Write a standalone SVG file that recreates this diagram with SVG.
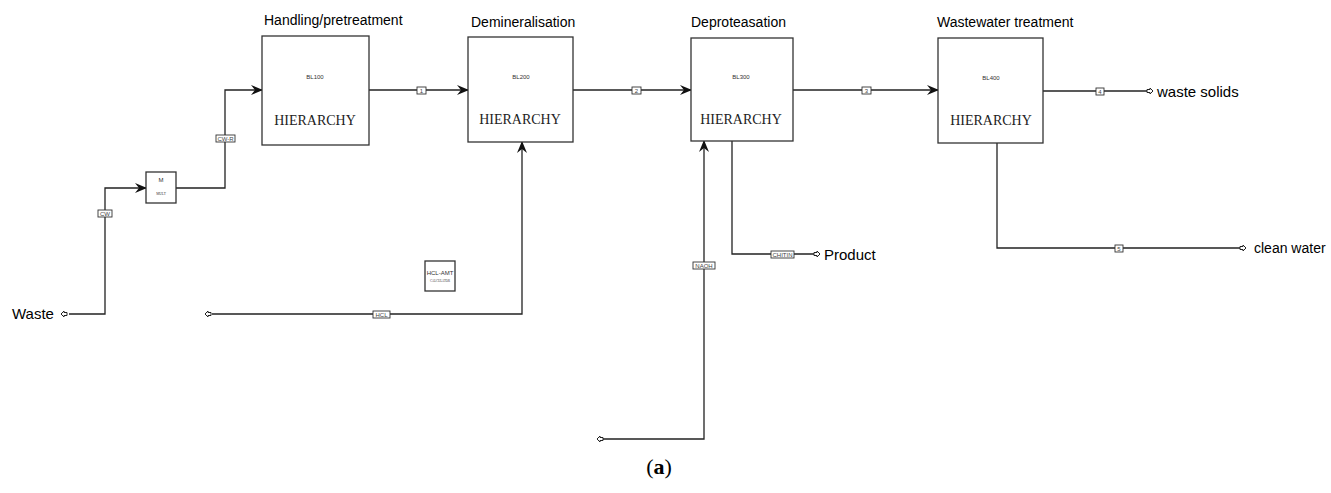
<svg xmlns="http://www.w3.org/2000/svg" width="1331" height="493" viewBox="0 0 1331 493">
<defs>
<style>
.blk{fill:#fff;stroke:#333;stroke-width:1.3}
.ln{fill:none;stroke:#222;stroke-width:1.3}
.ttl{font-family:"Liberation Sans",Arial,sans-serif;font-size:14px;fill:#000}
.lbl{font-family:"Liberation Sans",Arial,sans-serif;font-size:15px;fill:#000}
.bl{font-family:"Liberation Sans",Arial,sans-serif;font-size:6px;fill:#333;text-anchor:middle}
.hier{font-family:"Liberation Serif","Times New Roman",serif;font-size:14px;fill:#222;text-anchor:middle}
.tag{fill:#fff;stroke:#333;stroke-width:0.9}
.tagt{font-family:"Liberation Sans",Arial,sans-serif;font-size:6px;fill:#444;text-anchor:middle}
.port{fill:#fff;stroke:#222;stroke-width:1}
</style>
<marker id="ah" viewBox="0 0 12 10" refX="11" refY="5" markerWidth="12" markerHeight="10" markerUnits="userSpaceOnUse" orient="auto">
<path d="M0,0 L12,5 L0,10 L4,5 z" fill="#111"/>
</marker>
</defs>
<rect width="1331" height="493" fill="#fff"/>

<g id="connectors">
<path class="ln" d="M69,314 H105 V188 H146" marker-end="url(#ah)"/>
<path class="ln" d="M176,188 H225 V90 H262" marker-end="url(#ah)"/>
<path class="ln" d="M369,90 H468" marker-end="url(#ah)"/>
<path class="ln" d="M573,90 H691" marker-end="url(#ah)"/>
<path class="ln" d="M793,90 H938" marker-end="url(#ah)"/>
<path class="ln" d="M1043,91 H1147"/>
<path class="ln" d="M212,314 H522 V142" marker-end="url(#ah)"/>
<path class="ln" d="M603,439 H704 V141" marker-end="url(#ah)"/>
<path class="ln" d="M732,141 V254 H814"/>
<path class="ln" d="M997,143 V248 H1240"/>

<path class="port" d="M61,314 l3,-3 l0,1.5 l3,0 l0,3 l-3,0 l0,1.5 z"/>
<path class="port" d="M205,314 l3,-3 l0,1.5 l3,0 l0,3 l-3,0 l0,1.5 z"/>
<path class="port" d="M597,439 l3,-3 l0,1.5 l3,0 l0,3 l-3,0 l0,1.5 z"/>
<path class="port" d="M820,254 l-3,-3 l0,1.5 l-3,0 l0,3 l3,0 l0,1.5 z"/>
<path class="port" d="M1153,91 l-3,-3 l0,1.5 l-3,0 l0,3 l3,0 l0,1.5 z"/>
<path class="port" d="M1246,248 l-3,-3 l0,1.5 l-3,0 l0,3 l3,0 l0,1.5 z"/>

<rect class="tag" x="98" y="210" width="14" height="7"/><text class="tagt" x="105" y="216">CW</text>
<rect class="tag" x="216" y="135" width="19" height="7"/><text class="tagt" x="225.5" y="141">CW-R</text>
<rect class="tag" x="417" y="87" width="9" height="7"/><text class="tagt" x="421.5" y="93">1</text>
<rect class="tag" x="632" y="87" width="9" height="7"/><text class="tagt" x="636.5" y="93">2</text>
<rect class="tag" x="862" y="87" width="9" height="7"/><text class="tagt" x="866.5" y="93">3</text>
<rect class="tag" x="1096" y="88" width="8" height="7"/><text class="tagt" x="1100" y="94">4</text>
<rect class="tag" x="373" y="311" width="17" height="7"/><text class="tagt" x="381.5" y="317">HCL</text>
<rect class="tag" x="693" y="262" width="22" height="7"/><text class="tagt" x="704" y="268">NAOH</text>
<rect class="tag" x="771" y="251" width="23" height="7"/><text class="tagt" x="782.5" y="257">CHITIN</text>
<rect class="tag" x="1115" y="245" width="8" height="7"/><text class="tagt" x="1119" y="251">5</text>
</g>

<g id="mult">
<rect class="blk" x="146" y="172" width="30" height="31"/>
<text class="bl" x="161" y="182">M</text>
<text class="bl" x="161" y="195" style="font-size:3.5px;font-family:'Liberation Serif',serif">MULT</text>
</g>

<g id="bl100">
<rect class="blk" x="262" y="36" width="107" height="109"/>
<text class="ttl" x="264" y="25">Handling/pretreatment</text>
<text class="bl" x="315" y="79">BL100</text>
<text class="hier" x="315" y="125">HIERARCHY</text>
</g>

<g id="bl200">
<rect class="blk" x="468" y="37" width="105" height="105"/>
<text class="ttl" x="471" y="27">Demineralisation</text>
<text class="bl" x="521" y="79">BL200</text>
<text class="hier" x="520" y="124">HIERARCHY</text>
</g>

<g id="bl300">
<rect class="blk" x="691" y="38" width="102" height="103"/>
<text class="ttl" x="691" y="27">Deproteasation</text>
<text class="bl" x="741" y="79">BL300</text>
<text class="hier" x="741" y="124">HIERARCHY</text>
</g>

<g id="bl400">
<rect class="blk" x="938" y="38" width="105" height="105"/>
<text class="ttl" x="937" y="27">Wastewater treatment</text>
<text class="bl" x="991" y="80">BL400</text>
<text class="hier" x="991" y="125">HIERARCHY</text>
</g>

<g id="hcl-amt">
<rect class="blk" x="425" y="261" width="30" height="30"/>
<text class="bl" x="440" y="275" style="font-size:6px">HCL-AMT</text>
<text class="bl" x="440" y="282" style="font-size:3px;font-family:'Liberation Serif',serif">CALCULATOR</text>
</g>

<g id="labels">
<text class="lbl" x="12" y="319">Waste</text>
<text class="lbl" x="824" y="260">Product</text>
<text class="lbl" x="1157" y="97">waste solids</text>
<text class="lbl" x="1254" y="253" style="font-size:14px">clean water</text>
<text x="659" y="474" style="font-family:'Liberation Serif','Times New Roman',serif;font-size:22px;text-anchor:middle">(<tspan font-weight="bold">a</tspan>)</text>
</g>
</svg>
